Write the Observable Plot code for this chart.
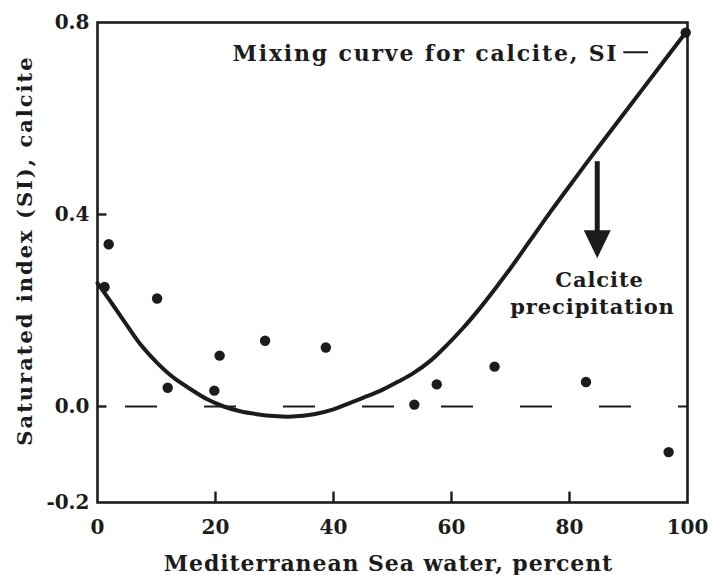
<!DOCTYPE html>
<html>
<head>
<meta charset="utf-8">
<script src="https://cdn.jsdelivr.net/npm/d3@7"></script>
<script src="https://cdn.jsdelivr.net/npm/@observablehq/plot@0.6"></script>
<style>
  html, body { margin: 0; padding: 0; background: #fff; }
  g[aria-label="text"] text { letter-spacing: 0.9px; }
  g[aria-description="legend"] text, g.legend-text text { letter-spacing: 1.8px; }
  g[aria-description="y title"] text, g.ytitle-text text { letter-spacing: 2px; }
</style>
</head>
<body>
<div id="chart"></div>
<script>
// Sample points: Mediterranean Sea water (percent) vs saturation index of calcite
const sampleX  = [1.2, 1.9, 10.1, 11.9, 19.8, 20.7, 28.4, 38.7, 53.7, 57.5, 67.3, 82.8, 96.8, 99.7];
const sampleSI = [0.249, 0.338, 0.225, 0.039, 0.033, 0.106, 0.137, 0.123, 0.004, 0.046, 0.083, 0.051, -0.095, 0.779];

// Mixing curve for calcite, SI
const mixX  = [0, 2.2, 4.5, 7.3, 10.1, 12.9, 15.8, 18.6, 21.4, 24.2, 27, 30, 33, 36.7, 40, 42.3, 45, 48, 51, 53.6, 56.4, 59.3, 62, 64.9, 67.5, 70, 73.4, 76.8, 81.3, 85.3, 92, 99.7];
const mixSI = [0.257, 0.219, 0.178, 0.129, 0.091, 0.060, 0.036, 0.015, 0.0, -0.010, -0.016, -0.020, -0.021, -0.016, -0.006, 0.005, 0.018, 0.033, 0.052, 0.070, 0.095, 0.129, 0.164, 0.206, 0.247, 0.288, 0.347, 0.406, 0.481, 0.547, 0.655, 0.779];

// Axis ticks and labels
const xDomain = [0, 100];
const yDomain = [-0.2, 0.8];
const xTickLabels = [0, 20, 40, 60, 80, 100];
const xTickMarks = [20, 40, 60, 80];
const yTickLabels = [0.8, 0.4, 0.0, -0.2];
const yTickMarks = [0.4, 0.0];
const xTitle = "Mediterranean Sea water, percent";
const yTitle = "Saturated index (SI), calcite";

// Annotations
const legendText = "Mixing curve for calcite, SI";
const legendTextX = 88.3, legendSI = 0.735;
const legendDashX1 = 89.2, legendDashX2 = 93.4, legendDashSI = 0.738;
const arrowX = 84.7, arrowTop = 0.51, arrowShaftEnd = 0.35, arrowTip = 0.309;
const noteLines = ["Calcite", "precipitation"];
const noteX = [85.1, 83.9];
const noteSI = [0.262, 0.207];

const mix = mixX.map((x, i) => ({x, si: mixSI[i]}));
const samples = sampleX.map((x, i) => ({x, si: sampleSI[i]}));
const notes = noteLines.map((t, i) => ({t, x: noteX[i], si: noteSI[i]}));

const ink = "#1c1c1c";
const headSymbol = {
  draw(context) {
    context.moveTo(0, 0);
    context.lineTo(-13.5, -28);
    context.lineTo(13.5, -28);
    context.closePath();
  }
};
// inward tick glyphs: up from the bottom edge, right from the left edge
const tickUp = {draw(context) { context.moveTo(0, 0); context.lineTo(0, -11); }};
const tickRight = {draw(context) { context.moveTo(0, 0); context.lineTo(9, 0); }};

const chart = Plot.plot({
  width: 715,
  height: 575,
  marginLeft: 97,
  marginRight: 28,
  marginTop: 22,
  marginBottom: 73,
  style: {fontFamily: "'DejaVu Serif', serif", fontWeight: "bold", fontSize: "20px", color: ink, background: "#fff"},
  x: {domain: xDomain},
  y: {domain: yDomain},
  marks: [
    // zero reference dashed line
    Plot.ruleY([0], {stroke: ink, strokeWidth: 2.2, strokeDasharray: "32,47", strokeDashoffset: 51}),
    // frame
    Plot.frame({stroke: ink, strokeWidth: 2.6}),
    // inward ticks
    Plot.dot(xTickMarks, {x: d => d, y: () => yDomain[0], symbol: tickUp, fill: "none", stroke: ink, strokeWidth: 2.4}),
    Plot.dot(yTickMarks, {y: d => d, x: () => xDomain[0], symbol: tickRight, fill: "none", stroke: ink, strokeWidth: 2.4}),
    // tick labels
    Plot.axisX({ticks: xTickLabels, tickSize: 0, tickPadding: 17, tickFormat: d => String(d), label: null, fill: ink}),
    Plot.axisY({ticks: yTickLabels, tickSize: 0, tickPadding: 8, tickFormat: d => d.toFixed(1), label: null, fill: ink}),
    // axis titles
    Plot.text([xTitle], {text: d => d, frameAnchor: "bottom", textAnchor: "middle", dy: 61, dx: -4, fontSize: 22, fill: ink, lineAnchor: "middle"}),
    Plot.text([yTitle], {text: d => d, ariaDescription: "y title", className: "ytitle-text", frameAnchor: "left", textAnchor: "middle", rotate: -90, dx: -72, dy: -12, fontSize: 21, fill: ink, lineAnchor: "middle"}),
    // mixing curve
    Plot.line(mix, {x: "x", y: "si", curve: "catmull-rom", stroke: ink, strokeWidth: 4}),
    // samples
    Plot.dot(samples, {x: "x", y: "si", r: 5.2, fill: ink, stroke: "none"}),
    // legend
    Plot.text([legendText], {x: legendTextX, y: legendSI, text: d => d, ariaDescription: "legend", className: "legend-text", textAnchor: "end", fontSize: 22, fill: ink}),
    Plot.ruleY([legendDashSI], {x1: legendDashX1, x2: legendDashX2, stroke: ink, strokeWidth: 2}),
    // arrow
    Plot.ruleX([arrowX], {y1: arrowTop, y2: arrowShaftEnd, stroke: ink, strokeWidth: 5}),
    Plot.dot([arrowX], {x: d => d, y: arrowTip, symbol: headSymbol, fill: ink, stroke: "none"}),
    Plot.text(notes, {x: "x", y: "si", text: "t", fontSize: 21, fill: ink})
  ]
});
document.getElementById("chart").appendChild(chart);
</script>
</body>
</html>
